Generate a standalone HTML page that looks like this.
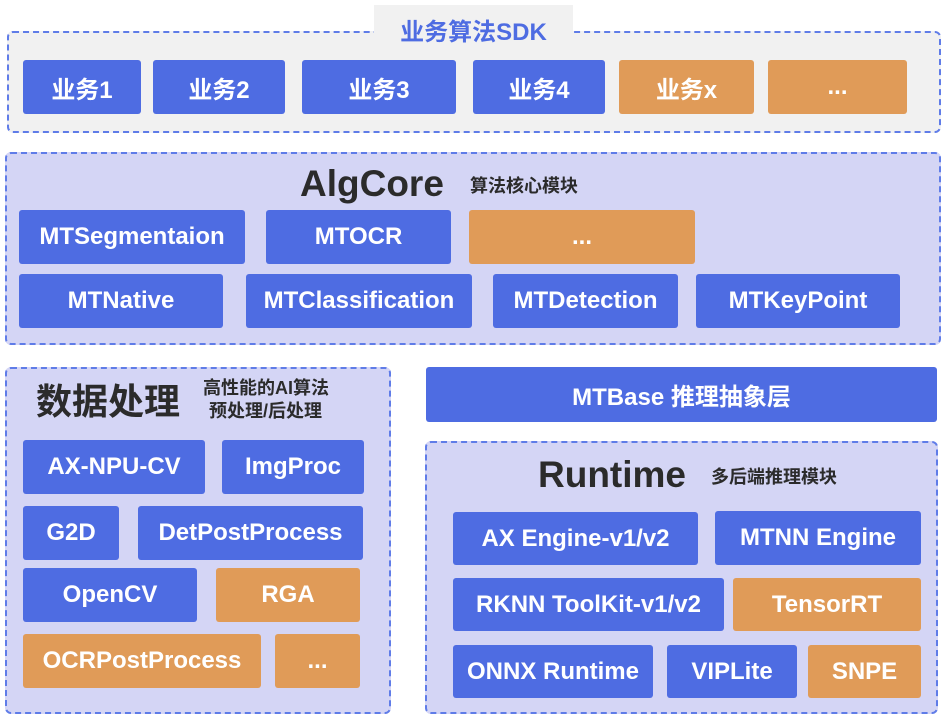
<!DOCTYPE html>
<html><head><meta charset="utf-8"><style>
*{margin:0;padding:0;box-sizing:border-box}
body{width:946px;height:720px;background:#fff;position:relative;overflow:hidden;font-family:"Liberation Sans","Noto Sans CJK SC",sans-serif}
.c{position:absolute;border:2px dashed #5f7ce8;border-radius:6px;background:#d4d5f5}
.a{position:absolute}
.b{position:absolute;display:flex;align-items:center;justify-content:center;color:#fff;font-weight:bold;font-size:24px;background:#4e6ce2;border-radius:3px;white-space:nowrap}
.o{background:#e09b58}
.t{position:absolute;white-space:nowrap;color:#2b2b2b;font-weight:bold;line-height:1}
</style></head><body>
<div class="c" style="left:7px;top:31px;width:934px;height:102px;background:#f1f1f1"></div>
<div class="a" style="left:374px;top:5px;width:199px;height:56px;background:#f1f1f1"></div>
<div class="t" style="left:374px;top:21px;width:199px;text-align:center;color:#4e6ce2;font-size:24px">业务算法SDK</div>
<div class="b" style="left:23px;top:60px;width:118px;height:54px">业务1</div>
<div class="b" style="left:153px;top:60px;width:132px;height:54px">业务2</div>
<div class="b" style="left:302px;top:60px;width:154px;height:54px">业务3</div>
<div class="b" style="left:473px;top:60px;width:132px;height:54px">业务4</div>
<div class="b o" style="left:619px;top:60px;width:135px;height:54px">业务x</div>
<div class="b o" style="left:768px;top:60px;width:139px;height:54px">...</div>

<div class="c" style="left:5px;top:152px;width:936px;height:193px"></div>
<div class="t" style="left:300px;top:165px;font-size:37px">AlgCore</div>
<div class="t" style="left:470px;top:177px;font-size:18px">算法核心模块</div>
<div class="b" style="left:19px;top:210px;width:226px;height:54px">MTSegmentaion</div>
<div class="b" style="left:266px;top:210px;width:185px;height:54px">MTOCR</div>
<div class="b o" style="left:469px;top:210px;width:226px;height:54px">...</div>
<div class="b" style="left:19px;top:274px;width:204px;height:54px">MTNative</div>
<div class="b" style="left:246px;top:274px;width:226px;height:54px">MTClassification</div>
<div class="b" style="left:493px;top:274px;width:185px;height:54px">MTDetection</div>
<div class="b" style="left:696px;top:274px;width:204px;height:54px">MTKeyPoint</div>

<div class="c" style="left:5px;top:367px;width:386px;height:347px"></div>
<div class="t" style="left:36px;top:384px;font-size:36px">数据处理</div>
<div class="t" style="left:203px;top:379px;font-size:18px">高性能的AI算法</div>
<div class="t" style="left:209px;top:402px;font-size:18px">预处理/后处理</div>
<div class="b" style="left:23px;top:440px;width:182px;height:54px">AX-NPU-CV</div>
<div class="b" style="left:222px;top:440px;width:142px;height:54px">ImgProc</div>
<div class="b" style="left:23px;top:506px;width:96px;height:54px">G2D</div>
<div class="b" style="left:138px;top:506px;width:225px;height:54px">DetPostProcess</div>
<div class="b" style="left:23px;top:568px;width:174px;height:54px">OpenCV</div>
<div class="b o" style="left:216px;top:568px;width:144px;height:54px">RGA</div>
<div class="b o" style="left:23px;top:634px;width:238px;height:54px">OCRPostProcess</div>
<div class="b o" style="left:275px;top:634px;width:85px;height:54px">...</div>

<div class="b" style="left:426px;top:367px;width:511px;height:55px;font-size:24px">MTBase 推理抽象层</div>
<div class="c" style="left:425px;top:441px;width:513px;height:273px"></div>
<div class="t" style="left:538px;top:456px;font-size:37px">Runtime</div>
<div class="t" style="left:711px;top:468px;font-size:18px">多后端推理模块</div>
<div class="b" style="left:453px;top:512px;width:245px;height:53px">AX Engine-v1/v2</div>
<div class="b" style="left:715px;top:511px;width:206px;height:54px">MTNN Engine</div>
<div class="b" style="left:453px;top:578px;width:271px;height:53px">RKNN ToolKit-v1/v2</div>
<div class="b o" style="left:733px;top:578px;width:188px;height:53px">TensorRT</div>
<div class="b" style="left:453px;top:645px;width:200px;height:53px">ONNX Runtime</div>
<div class="b" style="left:667px;top:645px;width:130px;height:53px">VIPLite</div>
<div class="b o" style="left:808px;top:645px;width:113px;height:53px">SNPE</div>
</body></html>
